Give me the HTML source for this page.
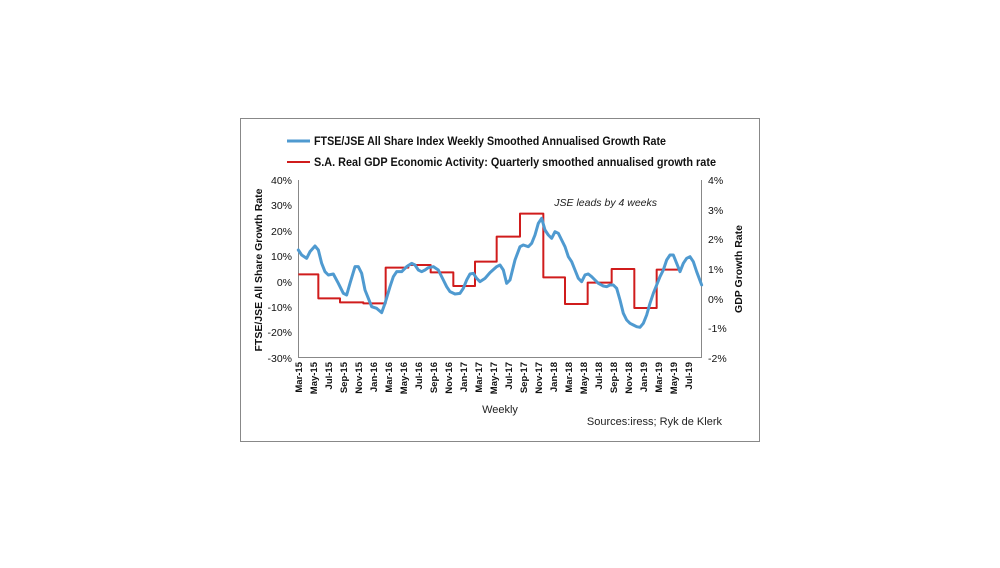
<!DOCTYPE html>
<html><head><style>
body{margin:0;background:#fff;width:1000px;height:563px;overflow:hidden}
svg{font-family:"Liberation Sans",Arial,sans-serif}
</style></head><body>
<svg width="1000" height="563" viewBox="0 0 1000 563">
<rect x="240.5" y="118.5" width="519" height="323" fill="#fff" stroke="#888" stroke-width="1"/>
<line x1="287" y1="141" x2="310" y2="141" stroke="#4f9ad0" stroke-width="3"/>
<text x="314" y="145" font-size="11.5" font-weight="bold" fill="#111" textLength="352" lengthAdjust="spacingAndGlyphs">FTSE/JSE All Share Index Weekly Smoothed Annualised Growth Rate</text>
<line x1="287" y1="162" x2="310" y2="162" stroke="#d01c1c" stroke-width="2"/>
<text x="314" y="166" font-size="11.5" font-weight="bold" fill="#111" textLength="402" lengthAdjust="spacingAndGlyphs">S.A. Real GDP Economic Activity: Quarterly smoothed annualised growth rate</text>
<g stroke="#888" stroke-width="1" fill="none">
<line x1="298.5" y1="180" x2="298.5" y2="358"/>
<line x1="701.5" y1="180" x2="701.5" y2="358"/>
<line x1="298" y1="357.5" x2="702" y2="357.5"/>
</g>
<g font-size="10.5" fill="#111" text-anchor="end">
<text x="292" y="184">40%</text><text x="292" y="209">30%</text><text x="292" y="235">20%</text><text x="292" y="260">10%</text><text x="292" y="286">0%</text><text x="292" y="311">-10%</text><text x="292" y="336">-20%</text><text x="292" y="362">-30%</text>
</g>
<g font-size="10.5" fill="#111">
<text x="708" y="184">4%</text><text x="708" y="214">3%</text><text x="708" y="243">2%</text><text x="708" y="273">1%</text><text x="708" y="303">0%</text><text x="708" y="332">-1%</text><text x="708" y="362">-2%</text>
</g>
<text transform="translate(262,270) rotate(-90)" text-anchor="middle" font-size="10.5" font-weight="bold" fill="#111">FTSE/JSE All Share Growth Rate</text>
<text transform="translate(742,269) rotate(-90)" text-anchor="middle" font-size="10.5" font-weight="bold" fill="#111">GDP Growth Rate</text>
<text x="657" y="206" text-anchor="end" font-size="10.5" font-style="italic" fill="#222">JSE leads by 4 weeks</text>
<g font-size="9.5" font-weight="bold" fill="#111" text-anchor="end">
<text transform="translate(302,362) rotate(-90)">Mar-15</text>
<text transform="translate(317,362) rotate(-90)">May-15</text>
<text transform="translate(332,362) rotate(-90)">Jul-15</text>
<text transform="translate(347,362) rotate(-90)">Sep-15</text>
<text transform="translate(362,362) rotate(-90)">Nov-15</text>
<text transform="translate(377,362) rotate(-90)">Jan-16</text>
<text transform="translate(392,362) rotate(-90)">Mar-16</text>
<text transform="translate(407,362) rotate(-90)">May-16</text>
<text transform="translate(422,362) rotate(-90)">Jul-16</text>
<text transform="translate(437,362) rotate(-90)">Sep-16</text>
<text transform="translate(452,362) rotate(-90)">Nov-16</text>
<text transform="translate(467,362) rotate(-90)">Jan-17</text>
<text transform="translate(482,362) rotate(-90)">Mar-17</text>
<text transform="translate(497,362) rotate(-90)">May-17</text>
<text transform="translate(512,362) rotate(-90)">Jul-17</text>
<text transform="translate(527,362) rotate(-90)">Sep-17</text>
<text transform="translate(542,362) rotate(-90)">Nov-17</text>
<text transform="translate(557,362) rotate(-90)">Jan-18</text>
<text transform="translate(572,362) rotate(-90)">Mar-18</text>
<text transform="translate(587,362) rotate(-90)">May-18</text>
<text transform="translate(602,362) rotate(-90)">Jul-18</text>
<text transform="translate(617,362) rotate(-90)">Sep-18</text>
<text transform="translate(632,362) rotate(-90)">Nov-18</text>
<text transform="translate(647,362) rotate(-90)">Jan-19</text>
<text transform="translate(662,362) rotate(-90)">Mar-19</text>
<text transform="translate(677,362) rotate(-90)">May-19</text>
<text transform="translate(692,362) rotate(-90)">Jul-19</text>
</g>
<text x="500" y="413" text-anchor="middle" font-size="11" fill="#222">Weekly</text>
<text x="722" y="425" text-anchor="end" font-size="11" fill="#222">Sources:iress; Ryk de Klerk</text>
<g transform="translate(240,170) scale(0.33333)" fill="none" stroke-linejoin="round">
<polyline stroke="#d01c1c" stroke-width="6" points="175,313 235,313 235,385 300,385 300,397 370,397 370,400 437,400 437,293 505,293 505,285 572,285 572,307 640,307 640,348 705,348 705,275 770,275 770,200 840,200 840,131 910,131 910,322 975,322 975,402 1043,402 1043,338 1115,338 1115,297 1183,297 1183,414 1250,414 1250,299 1315,299"/>
<polyline stroke="#4f9ad0" stroke-width="9" stroke-linecap="round" points="175,240 185,255 200,265 210,245 225,228 235,240 245,280 255,305 265,315 280,312 295,340 310,370 320,375 330,340 345,290 355,290 365,310 375,360 385,385 395,410 410,415 425,428 435,400 450,350 460,320 470,305 485,305 500,290 515,280 525,285 535,300 545,305 555,300 565,293 580,290 595,300 610,330 620,350 630,365 645,372 660,370 670,355 680,330 690,312 700,310 710,325 720,335 735,325 750,308 770,290 780,285 790,300 800,340 810,330 825,270 840,230 850,225 865,230 875,220 885,195 895,160 905,145 915,180 925,195 935,205 945,185 955,190 965,210 975,230 985,260 995,275 1005,300 1015,325 1025,335 1035,315 1045,312 1055,320 1065,330 1075,340 1090,348 1100,350 1110,345 1120,345 1130,355 1140,390 1150,430 1160,450 1170,460 1180,465 1190,470 1200,472 1210,460 1220,435 1230,400 1240,370 1250,345 1260,320 1270,300 1280,270 1290,255 1300,255 1310,280 1320,305 1330,280 1340,265 1350,260 1360,275 1370,305 1385,345"/>
</g>
</svg>
</body></html>
